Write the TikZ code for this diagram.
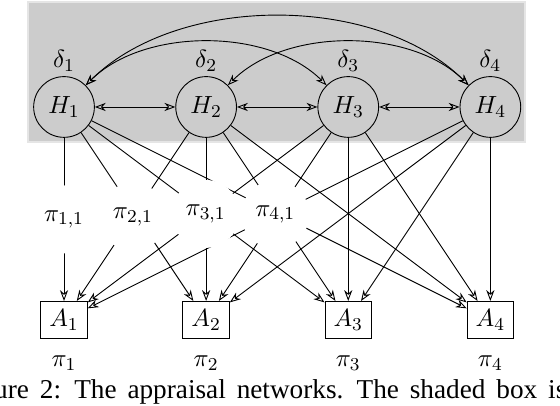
\documentclass[tikz,border=0pt]{standalone}
\usepackage{amsmath}
\usepackage[no-math]{fontspec}
\newfontfamily\capfont{Liberation Serif}
\usetikzlibrary{arrows.meta, positioning, calc}

\begin{document}
\begin{tikzpicture}[
    font=\fontsize{11}{13}\selectfont,
    >={Stealth[open]},
    % Styles for the appraisal network
    netbox/.style={fill=gray!40, draw=gray!20, line width=0.8pt},
    hnode/.style={draw, circle, minimum size=0.94cm, inner sep=0pt},
    anode/.style={draw, rectangle, minimum width=0.72cm, minimum height=0.58cm, inner sep=1pt},
    wnode/.style={circle, fill=white, minimum size=1.05cm, inner sep=0pt},
    mutual/.style={<->},
    flow/.style={->},
    captext/.style={font=\capfont\fontsize{12}{14}\selectfont, anchor=base west, inner sep=0pt}
]
\useasboundingbox (-0.991,-4.629) rectangle (7.678,1.656);

% ----------------------------------------------------
% Shaded box
% ----------------------------------------------------
\draw[netbox] (-0.557,-0.542) rectangle (7.136,1.625);

% ----------------------------------------------------
% Hidden nodes
% ----------------------------------------------------
\node[hnode] (H1) at (0,0) {$H_1$};
\node[hnode] (H2) at (2.2,0) {$H_2$};
\node[hnode] (H3) at (4.4,0) {$H_3$};
\node[hnode] (H4) at (6.6,0) {$H_4$};

\node (d1) at (0,0.71) {$\delta_1$};
\node (d2) at (2.2,0.71) {$\delta_2$};
\node (d3) at (4.4,0.71) {$\delta_3$};
\node (d4) at (6.6,0.71) {$\delta_4$};

% ----------------------------------------------------
% Appraisal nodes
% ----------------------------------------------------
\node[anode] (A1) at (0,-3.3) {$A_1$};
\node[anode] (A2) at (2.2,-3.3) {$A_2$};
\node[anode] (A3) at (4.4,-3.3) {$A_3$};
\node[anode] (A4) at (6.6,-3.3) {$A_4$};

\node (p1) at (0,-3.96) {$\pi_1$};
\node (p2) at (2.2,-3.96) {$\pi_2$};
\node (p3) at (4.4,-3.96) {$\pi_3$};
\node (p4) at (6.6,-3.96) {$\pi_4$};

% ----------------------------------------------------
% Links between hidden nodes
% ----------------------------------------------------
\draw[mutual] (H1) -- (H2);
\draw[mutual] (H2) -- (H3);
\draw[mutual] (H3) -- (H4);
\draw[mutual] (H1) to[out=45, in=135, looseness=0.87] (H3);
\draw[mutual] (H2) to[out=45, in=135, looseness=0.87] (H4);
\draw[mutual] (H1) to[out=45, in=135, looseness=0.87] (H4);

% ----------------------------------------------------
% Hidden to appraisal
% ----------------------------------------------------
\draw[flow] (H1) -- coordinate (m1) (A1);
\draw[flow] (H2) -- coordinate (m2) (A1);
\draw[flow] (H3) -- coordinate (m3) (A1);
\draw[flow] (H4) -- coordinate (m4) (A1);

\draw[flow] (H1) -- (A2);
\draw[flow] (H2) -- (A2);
\draw[flow] (H3) -- (A2);
\draw[flow] (H4) -- (A2);

\draw[flow] (H1) -- (A3);
\draw[flow] (H2) -- (A3);
\draw[flow] (H3) -- (A3);
\draw[flow] (H4) -- (A3);

\draw[flow] (H1) -- (A4);
\draw[flow] (H2) -- (A4);
\draw[flow] (H3) -- (A4);
\draw[flow] (H4) -- (A4);

% Weights sit on top of the crossing lines
\node[wnode] (w1) at (m1) {$\pi_{1,1}$};
\node[wnode] (w2) at (m2) {$\pi_{2,1}$};
\node[wnode] (w3) at (m3) {$\pi_{3,1}$};
\node[wnode] (w4) at (m4) {$\pi_{4,1}$};

% ----------------------------------------------------
% Caption (cut by the page edge)
% ----------------------------------------------------
\begin{scope}
\clip (-0.991,-4.629) rectangle (7.678,1.656);
\node[captext] (cap) at (-1.65,-4.52) {\spaceskip=0.4em\relax Figure 2: The appraisal networks. The shaded box is};
\end{scope}

\end{tikzpicture}
\end{document}
